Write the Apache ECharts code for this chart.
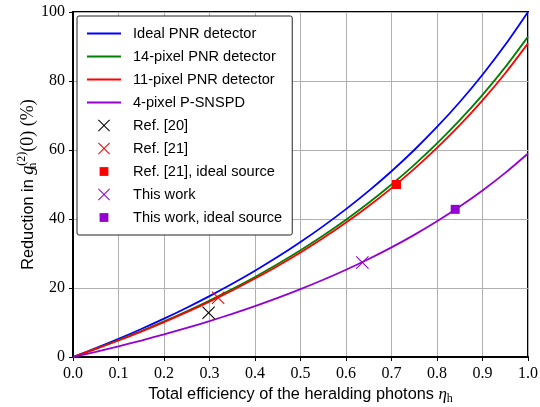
<!DOCTYPE html>
<html>
<head>
<meta charset="utf-8">
<script src="https://cdn.jsdelivr.net/npm/echarts@6/dist/echarts.min.js"></script>
<style>html,body{margin:0;padding:0;background:#fff}#c{width:540px;height:407px}</style>
</head>
<body>
<div id="c"></div>
<script>
// Heralding efficiency (x) at which curves were read
const eta = [0, 0.05, 0.1, 0.15, 0.2, 0.25, 0.3, 0.35, 0.4, 0.45, 0.5, 0.55, 0.6, 0.65, 0.7, 0.75, 0.8, 0.85, 0.9, 0.95, 1.0];
// Reduction in g2 (%)
const idealPNR = [0, 2.56, 5.26, 8.11, 11.11, 14.29, 17.65, 21.21, 25.0, 29.03, 33.33, 37.93, 42.86, 48.15, 53.85, 60.0, 66.67, 73.91, 81.82, 90.48, 100.0];
const pnr14 = [0, 2.38, 4.89, 7.53, 10.32, 13.27, 16.39, 19.70, 23.21, 26.96, 30.95, 35.22, 39.80, 44.71, 50.0, 55.71, 61.90, 68.63, 75.97, 84.01, 92.86];
const pnr11 = [0, 2.33, 4.79, 7.37, 10.10, 12.99, 16.04, 19.28, 22.73, 26.39, 30.30, 34.48, 38.96, 43.77, 48.95, 54.55, 60.61, 67.19, 74.38, 82.25, 90.91];
const psnspd4 = [0, 1.51, 3.11, 4.78, 6.56, 8.43, 10.41, 12.52, 14.75, 17.13, 19.67, 22.38, 25.29, 28.41, 31.77, 35.40, 39.33, 43.61, 48.27, 53.38, 59.0];
// Measured points [eta, reduction %]
const ref20 = [[0.298, 12.8]];
const ref21 = [[0.319, 17.2]];
const ref21Ideal = [[0.711, 50.0]];
const thisWork = [[0.636, 27.4]];
const thisWorkIdeal = [[0.840, 42.8]];
// Tick labels
const xTicks = ['0.0','0.1','0.2','0.3','0.4','0.5','0.6','0.7','0.8','0.9','1.0'];
const yTicks = ['0','20','40','60','80','100'];

const pairs = (ys) => eta.map((x, i) => [x, ys[i]]);
const SANS = 'Liberation Sans';
const SERIF = 'Liberation Serif';
const CROSS = 'path://M0,0.7L0.7,0L6,5.3L11.3,0L12,0.7L6.7,6L12,11.3L11.3,12L6,6.7L0.7,12L0,11.3L5.3,6Z';
const CROSS_LEG = 'path://M0,0M34,12M11,0.7L11.7,0L17,5.3L22.3,0L23,0.7L17.7,6L23,11.3L22.3,12L17,6.7L11.7,12L11,11.3L16.3,6Z';
const SQ_LEG = 'path://M0,0M34,12M12.6,1.6L21.4,1.6L21.4,10.4L12.6,10.4Z';
const LINE_LEG = 'path://M0,0M34,12M0,5.1L34,5.1L34,6.9L0,6.9Z';

const chart = echarts.init(document.getElementById('c'), null, {renderer: 'canvas'});
const lineS = (name, data, color) => ({
  name, type: 'line', data: pairs(data), symbol: 'none', showSymbol: false, smooth: 0.3,
  lineStyle: {color, width: 1.8}, itemStyle: {color}, z: 3
});
const scat = (name, data, color, symbol, size) => ({
  name, type: 'scatter', data, symbol, symbolSize: size,
  itemStyle: {color, opacity: 1}, z: 5
});
const richMath = (big) => ({
  s: {fontFamily: SANS, fontSize: 16.3, color: '#000'},
  i: {fontFamily: SERIF, fontStyle: 'italic', fontSize: big, color: '#000'},
  sub: {fontFamily: SERIF, fontSize: 12, color: '#000', padding: [9, 0, 0, 0]},
  subz: {fontFamily: SERIF, fontSize: 12, color: '#000', padding: [9, 0, 0, 0], width: 0},
  sup: {fontFamily: SERIF, fontSize: 12, color: '#000', padding: [0, 0, 13, 0]},
  m: {fontFamily: SERIF, fontSize: big, color: '#000'}
});
chart.setOption({
  animation: false,
  grid: {left: 73, right: 12, top: 12, bottom: 50, outerBoundsMode: 'none', containLabel: false,
    show: true, borderColor: '#000', borderWidth: 2, backgroundColor: 'transparent'},
  xAxis: {
    type: 'value', min: 0, max: 1, interval: 0.1,
    axisLine: {show: true, lineStyle: {color: '#000', width: 2}},
    axisTick: {show: true, length: 4, lineStyle: {color: '#000', width: 1}},
    axisLabel: {margin: 9, color: '#000', fontFamily: SERIF, fontSize: 16,
      formatter: (v) => xTicks[Math.round(v * 10)]},
    splitLine: {show: true, lineStyle: {color: '#b0b0b0', width: 1}},
    name: '{s|Total efficiency of the heralding photons }{i|η}{sub|h}',
    nameLocation: 'middle', nameGap: 27, nameMoveOverlap: false,
    nameTextStyle: {color: '#000', rich: richMath(17)}
  },
  yAxis: {
    type: 'value', min: 0, max: 100, interval: 20,
    axisLine: {show: true, lineStyle: {color: '#000', width: 2}},
    axisTick: {show: true, length: 4, lineStyle: {color: '#000', width: 1}},
    axisLabel: {margin: 8, color: '#000', fontFamily: SERIF, fontSize: 16,
      formatter: (v) => yTicks[Math.round(v / 20)]},
    splitLine: {show: true, lineStyle: {color: '#b0b0b0', width: 1}},
    name: '{s|Reduction in }{i|g}{subz|h}{sup|(2)}{m|(0) (%)}',
    nameLocation: 'middle', nameGap: 32, nameMoveOverlap: false,
    nameTextStyle: {color: '#000', rich: richMath(18)}
  },
  legend: {
    orient: 'vertical', left: 77, top: 16,
    itemWidth: 34, itemHeight: 12, itemGap: 8,
    padding: [10, 10, 10, 10],
    backgroundColor: '#fff', borderColor: '#222', borderWidth: 1, borderRadius: 2,
    textStyle: {fontFamily: SANS, fontSize: 14.6, color: '#000', padding: [0, 0, 0, 7]},
    data: [
      {name: 'Ideal PNR detector', icon: LINE_LEG},
      {name: '14-pixel PNR detector', icon: LINE_LEG},
      {name: '11-pixel PNR detector', icon: LINE_LEG},
      {name: '4-pixel P-SNSPD', icon: LINE_LEG},
      {name: 'Ref. [20]', icon: CROSS_LEG},
      {name: 'Ref. [21]', icon: CROSS_LEG},
      {name: 'Ref. [21], ideal source', icon: SQ_LEG},
      {name: 'This work', icon: CROSS_LEG},
      {name: 'This work, ideal source', icon: SQ_LEG}
    ],
    z: 10
  },
  series: [
    lineS('Ideal PNR detector', idealPNR, '#0000ff'),
    lineS('14-pixel PNR detector', pnr14, '#008000'),
    lineS('11-pixel PNR detector', pnr11, '#ff0000'),
    lineS('4-pixel P-SNSPD', psnspd4, '#9400d3'),
    scat('Ref. [20]', ref20, '#000000', CROSS, 13),
    scat('Ref. [21]', ref21, '#ff0000', CROSS, 13),
    scat('Ref. [21], ideal source', ref21Ideal, '#ff0000', 'rect', 9),
    scat('This work', thisWork, '#9400d3', CROSS, 13),
    scat('This work, ideal source', thisWorkIdeal, '#9400d3', 'rect', 9)
  ]
});
</script>
</body>
</html>
